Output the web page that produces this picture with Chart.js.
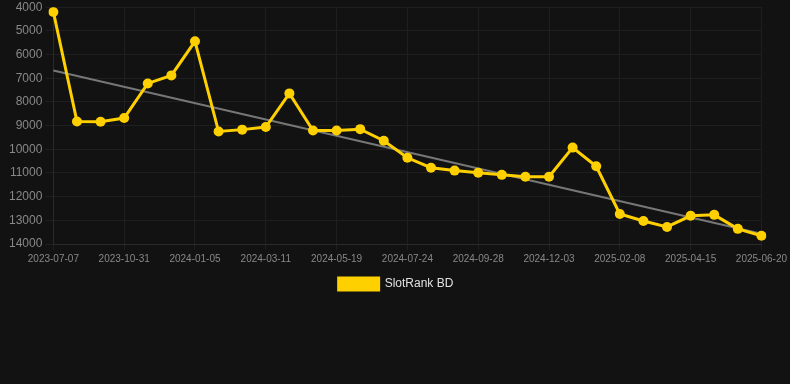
<!DOCTYPE html>
<html>
<head>
<meta charset="utf-8">
<script src="https://cdn.jsdelivr.net/npm/chart.js@4/dist/chart.umd.min.js"></script>
<style>
html,body{margin:0;padding:0;background:#121212;overflow:hidden;}
#wrap{width:790px;height:303px;position:relative;margin-top:-3px;}
</style>
</head>
<body>
<div id="wrap"><canvas id="c"></canvas></div>
<script>
const dates = ["2023-07-07","2023-08-15","2023-09-22","2023-10-31","2023-11-22","2023-12-14","2024-01-05","2024-01-27","2024-02-18","2024-03-11","2024-04-03","2024-04-26","2024-05-19","2024-06-10","2024-07-02","2024-07-24","2024-08-15","2024-09-06","2024-09-28","2024-10-20","2024-11-11","2024-12-03","2024-12-25","2025-01-17","2025-02-08","2025-03-02","2025-03-24","2025-04-15","2025-05-07","2025-05-29","2025-06-20"];
const rankValues = [4200,8830,8840,8680,7220,6880,5440,9250,9170,9060,7640,9210,9210,9150,9640,10360,10780,10900,10990,11080,11160,11160,9930,10720,12730,13030,13280,12810,12770,13360,13650];
const trendStart = 6670;
const trendEnd = 13570;
const yTicks = [4000,5000,6000,7000,8000,9000,10000,11000,12000,13000,14000];

const trendValues = dates.map((d,i)=> i===0 ? trendStart : (i===dates.length-1 ? trendEnd : null));

new Chart(document.getElementById('c'), {
  type: 'line',
  data: {
    labels: dates,
    datasets: [
      {
        label: 'SlotRank BD',
        data: rankValues,
        borderColor: '#FFD000',
        backgroundColor: '#FFD000',
        borderWidth: 3,
        pointRadius: 5,
        pointBorderWidth: 0,
        pointHoverRadius: 5,
        pointBackgroundColor: '#FFD000',
        tension: 0,
        order: 1
      },
      {
        label: 'trend',
        data: trendValues,
        spanGaps: true,
        borderColor: '#777777',
        borderWidth: 2,
        pointRadius: 0,
        fill: false,
        order: 2
      }
    ]
  },
  options: {
    responsive: true,
    maintainAspectRatio: false,
    animation: false,
    layout: { padding: { top: 0, right: 4, left: 6, bottom: 0 } },
    plugins: {
      legend: {
        position: 'bottom',
        labels: {
          color: '#e0e0e0',
          font: { family: 'Liberation Sans, Arial, sans-serif', size: 12 },
          boxWidth: 40,
          boxHeight: 12,
          filter: (item) => item.text !== 'trend'
        }
      },
      tooltip: { enabled: false }
    },
    scales: {
      x: {
        grid: { color: '#1f1f1f', drawTicks: true, tickLength: 6 },
        border: { color: '#2a2a2a' },
        ticks: {
          color: '#888888',
          font: { family: 'Liberation Sans, Arial, sans-serif', size: 10 },
          autoSkip: false,
          maxRotation: 0,
          callback: function(v, i) { return i % 3 === 0 ? dates[i] : null; }
        }
      },
      y: {
        reverse: true,
        min: 4000,
        max: 14000,
        afterBuildTicks: (axis) => { axis.ticks = yTicks.map(v => ({ value: v })); },
        grid: { color: '#1f1f1f' },
        border: { color: '#2a2a2a' },
        ticks: {
          color: '#888888',
          font: { family: 'Liberation Sans, Arial, sans-serif', size: 12 },
          padding: 3,
          callback: (v) => String(v)
        }
      }
    }
  }
});
</script>
</body>
</html>
